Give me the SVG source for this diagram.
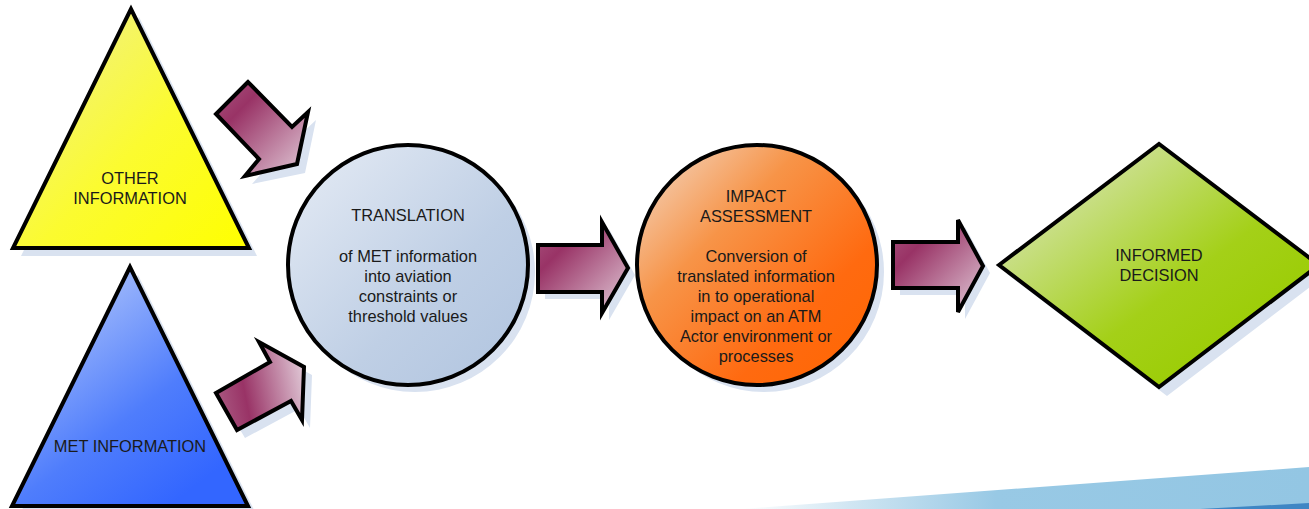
<svg xmlns="http://www.w3.org/2000/svg" width="1309" height="509" viewBox="0 0 1309 509">
  <style>
    .outline { stroke: #000; stroke-width: 4; stroke-linejoin: miter; }
    .shadow { fill: #d9e2f0; stroke: none; }
    .label { font-family: "Liberation Sans", Arial, sans-serif; font-size: 16.4px; fill: #1a1a1a; text-anchor: middle; }
  </style>
  <defs>
    <linearGradient id="gYellow" x1="0" y1="0" x2="1" y2="1">
      <stop offset="0" stop-color="#eeee99"/>
      <stop offset="0.55" stop-color="#fbfb30"/>
      <stop offset="1" stop-color="#ffff00"/>
    </linearGradient>
    <linearGradient id="gBlue" x1="0.2" y1="0.1" x2="0.8" y2="0.9">
      <stop offset="0" stop-color="#a9c0fb"/>
      <stop offset="0.6" stop-color="#4f7dfc"/>
      <stop offset="1" stop-color="#3366ff"/>
    </linearGradient>
    <linearGradient id="gSteel" x1="0" y1="0" x2="1" y2="1">
      <stop offset="0" stop-color="#e6ecf5"/>
      <stop offset="0.6" stop-color="#bfcfe5"/>
      <stop offset="1" stop-color="#b0c4df"/>
    </linearGradient>
    <linearGradient id="gOrange" x1="0" y1="0" x2="1" y2="1">
      <stop offset="0" stop-color="#f2dccc"/>
      <stop offset="0.35" stop-color="#f79448"/>
      <stop offset="0.7" stop-color="#ff6a10"/>
      <stop offset="1" stop-color="#ff6600"/>
    </linearGradient>
    <linearGradient id="gGreen" x1="0.15" y1="0.15" x2="0.85" y2="0.85">
      <stop offset="0" stop-color="#d3e3a6"/>
      <stop offset="0.6" stop-color="#a4d018"/>
      <stop offset="1" stop-color="#99cc00"/>
    </linearGradient>
    <linearGradient id="gArrowDiag" x1="0" y1="0" x2="1" y2="1">
      <stop offset="0" stop-color="#a8557f"/>
      <stop offset="0.28" stop-color="#993366"/>
      <stop offset="1" stop-color="#e2ccd9"/>
    </linearGradient>
    <linearGradient id="gArrowRise" x1="0" y1="0.5" x2="1" y2="0.3">
      <stop offset="0" stop-color="#a8557f"/>
      <stop offset="0.3" stop-color="#993366"/>
      <stop offset="1" stop-color="#e0c8d6"/>
    </linearGradient>
    <linearGradient id="gSwoosh" x1="0" y1="0" x2="1" y2="0">
      <stop offset="0" stop-color="#ffffff"/>
      <stop offset="0.2" stop-color="#cfe5f2"/>
      <stop offset="0.45" stop-color="#98c9e5"/>
      <stop offset="1" stop-color="#93c6e3"/>
    </linearGradient>
  </defs>

  <!-- pale blue band along the lower right edge -->
  <g id="swoosh">
    <polygon points="740,509 1309,467 1309,509" fill="url(#gSwoosh)"/>
    <polygon points="1200,509 1309,503 1309,509" fill="#3f86c4"/>
  </g>

  <!-- source: other information -->
  <g id="node-other-information">
    <polygon class="shadow" points="139,17 21,256 257,256"/>
    <polygon class="outline" fill="url(#gYellow)" points="131,9 13,248 249,248"/>
    <text class="label" x="130" y="184">OTHER</text>
    <text class="label" x="130" y="204">INFORMATION</text>
  </g>

  <!-- source: met information -->
  <g id="node-met-information">
    <polygon class="shadow" points="138,275 20,514 256,514"/>
    <polygon class="outline" fill="url(#gBlue)" points="130,267 12,506 248,506"/>
    <text class="label" x="130" y="452">MET INFORMATION</text>
  </g>

  <!-- step 1: translation -->
  <g id="node-translation">
    <circle class="shadow" cx="415" cy="272" r="120"/>
    <circle class="outline" fill="url(#gSteel)" cx="408" cy="265" r="120"/>
    <text class="label" x="408" y="221">TRANSLATION</text>
    <text class="label" x="408" y="262">of MET information</text>
    <text class="label" x="408" y="282">into aviation</text>
    <text class="label" x="408" y="302">constraints or</text>
    <text class="label" x="408" y="322">threshold values</text>
  </g>

  <!-- step 2: impact assessment -->
  <g id="node-impact-assessment">
    <circle class="shadow" cx="764" cy="272" r="120"/>
    <circle class="outline" fill="url(#gOrange)" cx="757" cy="265" r="120"/>
    <text class="label" x="756" y="202">IMPACT</text>
    <text class="label" x="756" y="222">ASSESSMENT</text>
    <text class="label" x="756" y="262">Conversion of</text>
    <text class="label" x="756" y="282">translated information</text>
    <text class="label" x="756" y="302">in to operational</text>
    <text class="label" x="756" y="322">impact on an ATM</text>
    <text class="label" x="756" y="342">Actor environment or</text>
    <text class="label" x="756" y="362">processes</text>
  </g>

  <!-- outcome: informed decision -->
  <g id="node-informed-decision">
    <polygon class="shadow" points="1007,274 1167,153 1327,274 1167,396"/>
    <polygon class="outline" fill="url(#gGreen)" points="999,265 1159,144 1319,265 1159,387"/>
    <text class="label" x="1159" y="261">INFORMED</text>
    <text class="label" x="1159" y="281">DECISION</text>
  </g>

  <!-- block arrows linking the steps -->
  <g id="connectors">
    <g id="arrow-other-to-translation">
      <polygon class="shadow" points="255,90 223,121 267,167 252,184 305,173 316,120 300,135"/>
      <polygon class="outline" fill="url(#gArrowDiag)" points="248,82 216,114 259,159 245,176 297,164 308,112 292,127"/>
    </g>
    <g id="arrow-met-to-translation">
      <polygon class="shadow" points="223,401 245,438 299,409 310,428 312,375 267,350 278,370"/>
      <polygon class="outline" fill="url(#gArrowRise)" points="216,393 237,430 291,401 302,420 304,367 259,342 270,362"/>
    </g>
    <g id="arrow-translation-to-impact">
      <polygon class="shadow" points="545,252 609,252 609,229 635,275 609,320 609,299 545,299"/>
      <polygon class="outline" fill="url(#gArrowDiag)" points="538,245 602,245 602,222 628,268 602,313 602,292 538,292"/>
    </g>
    <g id="arrow-impact-to-decision">
      <polygon class="shadow" points="900,249 965,249 965,227 990,273 965,319 965,295 900,295"/>
      <polygon class="outline" fill="url(#gArrowDiag)" points="893,242 958,242 958,220 983,266 958,312 958,288 893,288"/>
    </g>
  </g>
</svg>
